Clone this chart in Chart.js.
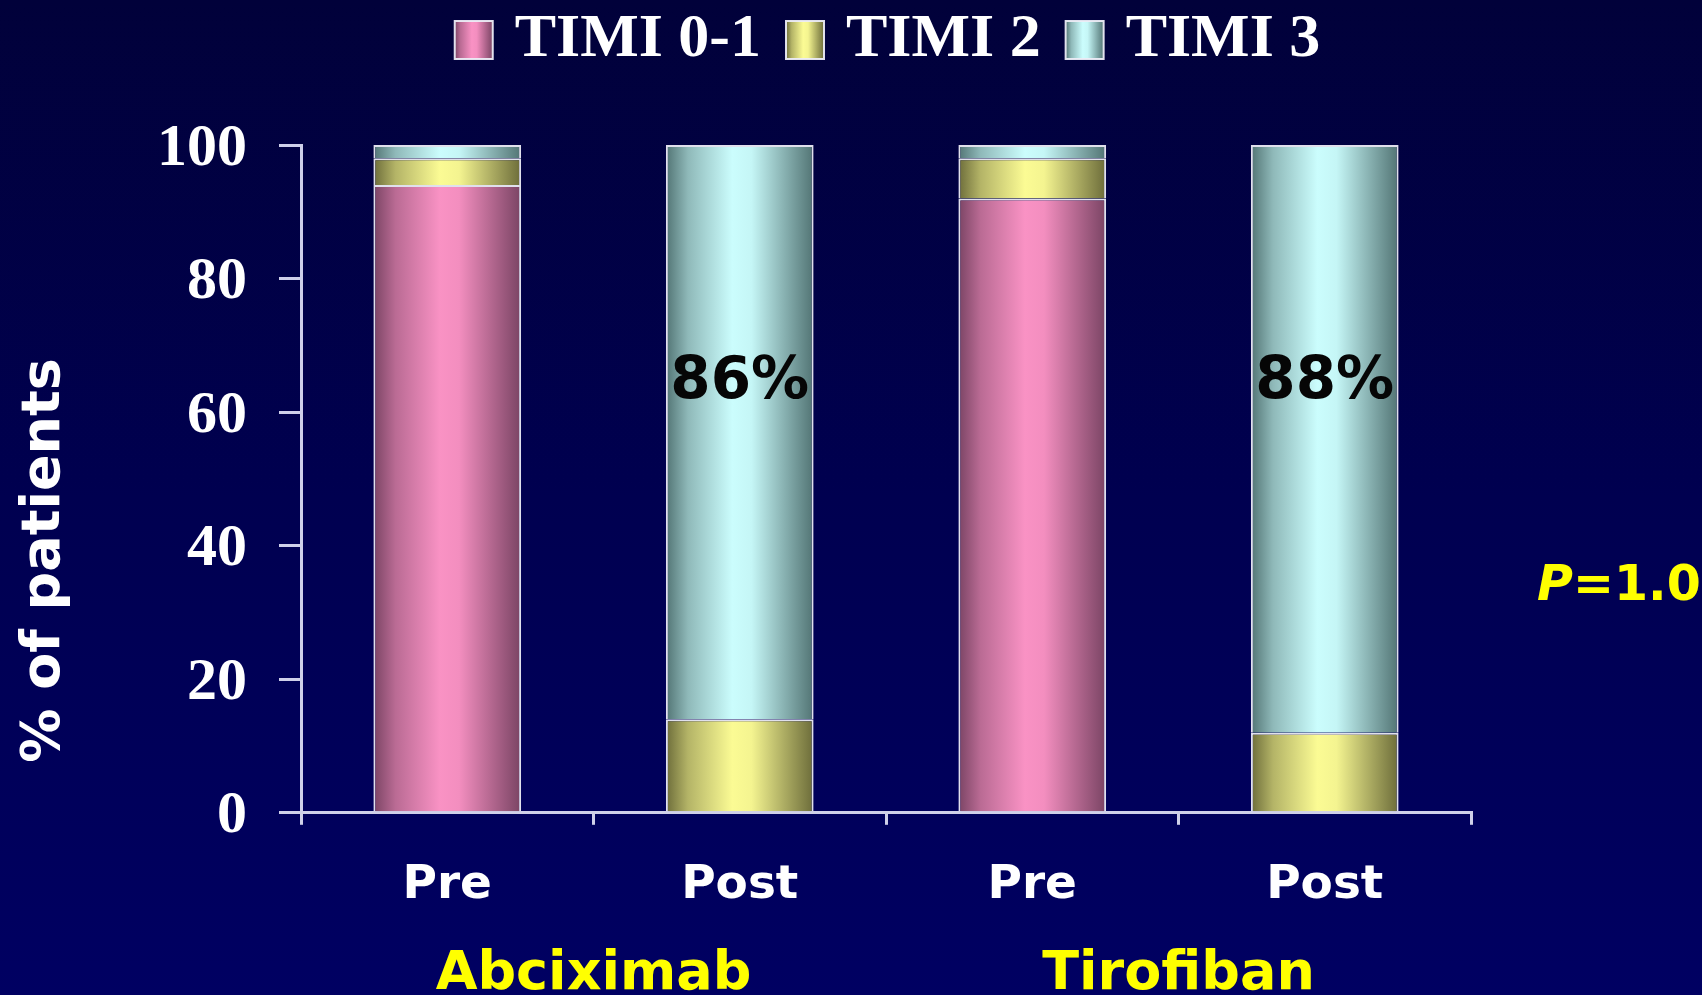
<!DOCTYPE html>
<html>
<head>
<meta charset="utf-8">
<title>TIMI flow grade before and after treatment</title>
<script src="https://cdn.jsdelivr.net/npm/chart.js"></script>
<style>
  html, body {
    margin: 0;
    padding: 0;
    width: 1702px;
    height: 995px;
    overflow: hidden;
    background: linear-gradient(to bottom, #01013a 0%, #000050 50%, #000062 100%);
  }
  canvas { display: block; }
</style>
</head>
<body>
<canvas id="chart" width="1702" height="1002"></canvas>
<script>
// ---- data ----
const categories = ['Pre', 'Post', 'Pre', 'Post'];
const groups = ['Abciximab', 'Tirofiban'];
const seriesNames = ['TIMI 0-1', 'TIMI 2', 'TIMI 3'];
const timi01 = [94, 0, 92, 0];
const timi2 = [4, 14, 6, 12];
const timi3 = [2, 86, 2, 88];
const yTicks = [0, 20, 40, 60, 80, 100];
const pValue = '1.0';

// ---- styling ----
const AXIS_COLOR = '#cfd0ea';
const BAR_EDGE = 'rgba(236, 236, 246, 0.95)';
const BAR_FRACTION = 0.505;
const SANS = '"DejaVu Sans", Verdana, sans-serif';
const SERIF = '"Liberation Serif", "Times New Roman", serif';
const LABEL_LEVEL = 64.3;        // height (in %) where the TIMI 3 percentages sit
const LEGEND_SWATCH = 38;
const LEGEND_LIFT = 64;
const LEGEND_NUDGE = 12;

// shading profile across a bar: [position, share of the light colour]
const SHADE_PROFILE = [[0, 0], [0.15, 0.5], [0.45, 1], [0.58, 0.95], [1, 0]];

function hexToRgb(h) {
  const n = parseInt(h.slice(1), 16);
  return [(n >> 16) & 255, (n >> 8) & 255, n & 255];
}
function mix(dark, light, t) {
  const a = hexToRgb(dark), b = hexToRgb(light);
  const c = a.map((v, i) => Math.round(v + (b[i] - v) * t));
  return `rgb(${c[0]},${c[1]},${c[2]})`;
}
function cylinder(ctx, x0, x1, shade) {
  const g = ctx.createLinearGradient(x0, 0, x1, 0);
  SHADE_PROFILE.forEach(([p, t]) => g.addColorStop(p, mix(shade[0], shade[1], t)));
  return g;
}

// Cylinder-like shading: dark edges, bright centre
function shaded(shade) {
  return (c) => {
    const chart = c.chart;
    if (!chart.chartArea || c.type !== 'data') return shade[1];
    const xs = chart.scales.x;
    const cx = xs.getPixelForValue(c.dataIndex);
    const half = (xs.width / categories.length) * BAR_FRACTION / 2;
    return cylinder(chart.ctx, cx - half, cx + half, shade);
  };
}

const shades = [
  ['#7a4464', '#f992c4'],
  ['#6c6c3a', '#fbfb94'],
  ['#527474', '#cbfdfd'],
];

function makeSet(label, values, shade) {
  return {
    label,
    data: values,
    shade,
    backgroundColor: shaded(shade),
    borderColor: BAR_EDGE,
    borderWidth: 2,
    barPercentage: BAR_FRACTION,
    categoryPercentage: 1,
  };
}

// Legend sits centred over the plot area, at the very top of the page
const legendPlacement = {
  id: 'legendPlacement',
  afterLayout(chart) {
    const lg = chart.legend;
    if (!lg) return;
    const a = chart.chartArea;
    lg.left = a.left + LEGEND_NUDGE;
    lg.right = a.right;
    lg.width = lg.right - lg.left;
    lg.top -= LEGEND_LIFT;
    lg.bottom -= LEGEND_LIFT;
  },
  beforeDraw(chart) {
    const lg = chart.legend;
    if (!lg || !lg.legendHitBoxes || !lg.legendItems) return;
    const boxW = lg.options.labels.boxWidth;
    lg.legendItems.forEach((item, i) => {
      const hb = lg.legendHitBoxes[i];
      const shade = chart.data.datasets[item.datasetIndex].shade;
      const cx = hb.left + boxW / 2;
      item.fillStyle = cylinder(chart.ctx, cx - LEGEND_SWATCH / 2, cx + LEGEND_SWATCH / 2, shade);
      item.strokeStyle = BAR_EDGE;
      item.lineWidth = 2;
    });
  }
};

// Axis title, percentage labels and the p-value
const overlayText = {
  id: 'overlayText',
  afterDatasetsDraw(chart) {
    const { ctx, chartArea: a, scales: { y } } = chart;
    const meta = chart.getDatasetMeta(2);

    ctx.save();
    ctx.font = 'bold 58px ' + SANS;
    ctx.fillStyle = '#060606';
    ctx.textAlign = 'center';
    ctx.textBaseline = 'middle';
    timi3.forEach((v, i) => {
      if (v < 50) return;
      ctx.fillText(v + '%', meta.data[i].x, y.getPixelForValue(LABEL_LEVEL));
    });
    ctx.restore();

    ctx.save();
    ctx.translate(a.left - 256, a.top + a.height * 0.622);
    ctx.rotate(-Math.PI / 2);
    ctx.font = 'bold 54px ' + SANS;
    ctx.fillStyle = '#ffffff';
    ctx.textAlign = 'center';
    ctx.textBaseline = 'middle';
    ctx.fillText('% of patients', 0, 0);
    ctx.restore();

    ctx.save();
    ctx.fillStyle = '#ffff00';
    ctx.textAlign = 'left';
    ctx.textBaseline = 'alphabetic';
    const px = a.right + 66;
    const py = a.top + a.height * 0.682;
    ctx.font = 'italic bold 49px ' + SANS;
    ctx.fillText('P', px, py);
    const w = ctx.measureText('P').width;
    ctx.font = 'bold 49px ' + SANS;
    ctx.fillText('=' + pValue, px + w, py);
    ctx.restore();
  }
};

new Chart(document.getElementById('chart'), {
  type: 'bar',
  data: {
    labels: categories,
    datasets: [
      makeSet(seriesNames[0], timi01, shades[0]),
      makeSet(seriesNames[1], timi2, shades[1]),
      makeSet(seriesNames[2], timi3, shades[2]),
    ],
  },
  options: {
    responsive: false,
    animation: false,
    events: [],
    layout: { padding: { top: 39, left: 125, right: 231, bottom: 0 } },
    plugins: {
      tooltip: { enabled: false },
      legend: {
        display: true,
        position: 'top',
        labels: {
          color: '#ffffff',
          font: { family: SERIF, size: 62, weight: 'bold' },
          usePointStyle: true,
          pointStyle: 'rect',
          boxWidth: 20,
          boxHeight: LEGEND_SWATCH,
          padding: 34,
        },
      },
    },
    scales: {
      x: {
        type: 'category',
        stacked: true,
        offset: true,
        weight: 0,
        grid: {
          display: true,
          offset: true,
          drawOnChartArea: false,
          drawTicks: true,
          tickLength: 12,
          color: AXIS_COLOR,
          lineWidth: 3,
        },
        border: { display: true, color: AXIS_COLOR, width: 3 },
        ticks: {
          color: '#ffffff',
          font: { family: SANS, size: 47, weight: 'bold' },
          padding: 33,
          maxRotation: 0,
          autoSkip: false,
        },
      },
      x2: {
        type: 'category',
        labels: groups,
        position: 'bottom',
        offset: true,
        weight: 10,
        grid: { display: false, drawTicks: false },
        border: { display: false },
        ticks: {
          color: '#ffff00',
          font: { family: SANS, size: 54, weight: 'bold' },
          padding: -5,
          maxRotation: 0,
          autoSkip: false,
        },
      },
      y: {
        stacked: true,
        min: 0,
        max: 100,
        afterBuildTicks: (s) => { s.ticks = yTicks.map((v) => ({ value: v })); },
        grid: {
          display: true,
          drawOnChartArea: false,
          drawTicks: true,
          tickLength: 22,
          color: AXIS_COLOR,
          lineWidth: 3,
        },
        border: { display: true, color: AXIS_COLOR, width: 3 },
        ticks: {
          color: '#ffffff',
          font: { family: SERIF, size: 60, weight: 'bold' },
          padding: 32,
          labelOffset: 4,
        },
      },
    },
  },
  plugins: [legendPlacement, overlayText],
});
</script>
</body>
</html>
